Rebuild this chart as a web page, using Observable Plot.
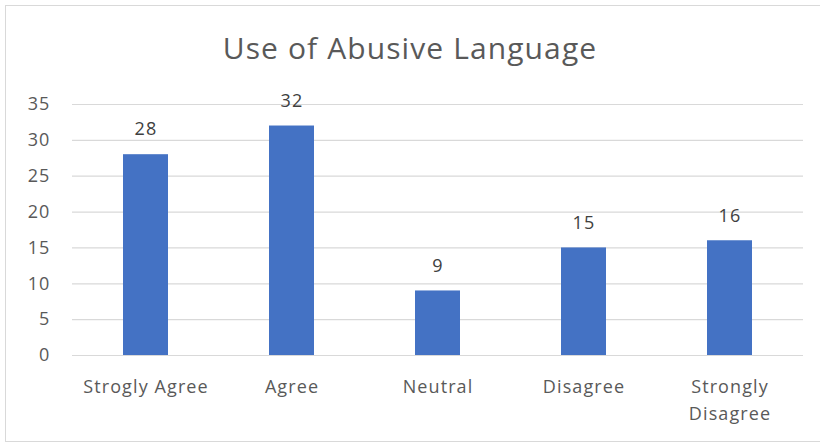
<!DOCTYPE html>
<html>
<head>
<meta charset="utf-8">
<script src="https://cdn.jsdelivr.net/npm/d3@7"></script>
<script src="https://cdn.jsdelivr.net/npm/@observablehq/plot@0.6"></script>
<style>
  html, body { margin: 0; padding: 0; background: #fff; overflow: hidden; }
  #frame { position: absolute; left: 5px; top: 5px; width: 830px; height: 437px;
           border: 1.5px solid #d9d9d9; box-sizing: border-box; }
  #title { position: absolute; left: 0; top: 0; width: 820px; height: 85px;
           font-family: "Open Sans", Lato, sans-serif; font-size: 30px; color: #595959;
           letter-spacing: 1.1px;
           text-align: center; line-height: 1; padding-top: 33px; box-sizing: border-box; }
  #chart { position: absolute; left: 0; top: 85px; }
  #chart svg text { letter-spacing: 1.1px; }
</style>
</head>
<body>
<div id="frame"></div>
<div id="title">Use of Abusive Language</div>
<div id="chart"></div>
<script>
const categories = ["Strogly Agree", "Agree", "Neutral", "Disagree", "Strongly\nDisagree"];
const values = [28, 32, 9, 15, 16];
const yTicks = [0, 5, 10, 15, 20, 25, 30, 35];

const data = categories.map((c, i) => ({category: c, value: values[i]}));
const font = "'Open Sans', Lato, sans-serif";

const plot = Plot.plot({
  width: 820,
  height: 362,
  marginLeft: 72,
  marginRight: 17,
  marginTop: 19,
  marginBottom: 92,
  style: {fontFamily: font, fontSize: "18px", color: "#595959", background: "transparent"},
  x: {domain: categories, paddingInner: 0.69, paddingOuter: 0.345, label: null},
  y: {domain: [0, 35], label: null},
  marks: [
    Plot.gridY(yTicks, {stroke: "#d9d9d9", strokeOpacity: 1, strokeWidth: 1.2}),
    Plot.axisY({ticks: yTicks, tickSize: 0, tickPadding: 22, fill: "#595959", fontSize: 18, label: null}),
    Plot.axisX({tickSize: 0, tickPadding: 18, fill: "#595959", fontSize: 18, lineHeight: 1.5, label: null, textAnchor: "middle"}),
    Plot.barY(data, {x: "category", y: "value", fill: "#4472C4"}),
    Plot.text(data, {x: "category", y: "value", text: d => String(d.value), dy: -25, fill: "#404040", fontSize: 18})
  ]
});
document.getElementById("chart").appendChild(plot);
</script>
</body>
</html>
